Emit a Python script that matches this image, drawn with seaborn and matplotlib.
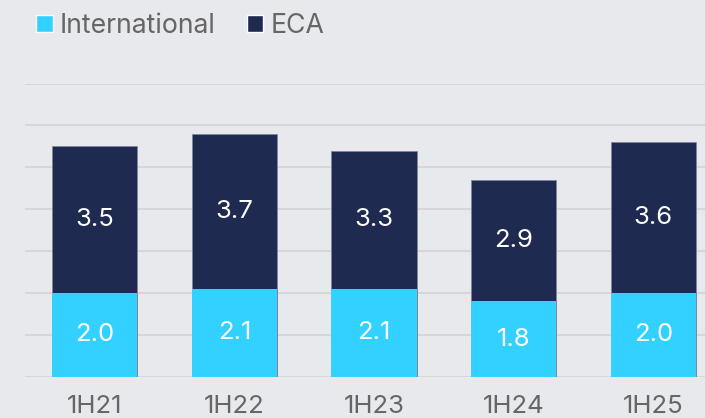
import pandas as pd
import seaborn as sns
import matplotlib.pyplot as plt
from matplotlib.patches import Patch

periods = ["1H21", "1H22", "1H23", "1H24", "1H25"]
international = [2.0, 2.1, 2.1, 1.8, 2.0]
eca = [3.5, 3.7, 3.3, 2.9, 3.6]

BG = "#e8e9ed"
CYAN = "#33d1ff"
NAVY = "#1e2a4f"
GRAY = "#666666"

sns.set_theme(style="whitegrid")
plt.rcParams["font.family"] = ["Inter", "DejaVu Sans"]

df = pd.DataFrame({"period": periods, "International": international, "ECA": eca})
df["total"] = df["International"] + df["ECA"]

fig = plt.figure(figsize=(7.05, 4.18), dpi=100, facecolor=BG)
ax = fig.add_axes([25 / 705, 1 - 376.7 / 418, 1 - 25 / 705, (376.7 - 83.5) / 418])
ax.set_facecolor(BG)

# stacked: draw totals in navy, then international on top of them
sns.barplot(data=df, x="period", y="total", color=NAVY, width=0.61, saturation=1,
            edgecolor="#7d86a0", linewidth=0.5, ax=ax)
sns.barplot(data=df, x="period", y="International", color=CYAN, width=0.61, saturation=1,
            edgecolor=CYAN, linewidth=0, ax=ax)

for i, row in df.iterrows():
    ax.text(i, row["International"] / 2, f"{row['International']:.1f}", ha="center", va="center",
            color="white", fontsize=18.5)
    ax.text(i, row["International"] + row["ECA"] / 2, f"{row['ECA']:.1f}", ha="center", va="center",
            color="white", fontsize=18.5)

ax.set_ylim(0, 7)
ax.set_xlim(-0.5, 4.37)
ax.set_yticks(range(0, 8))
ax.set_yticklabels([])
ax.tick_params(axis="y", length=0)
ax.tick_params(axis="x", length=0, pad=13, labelsize=18.5, labelcolor=GRAY)
ax.grid(axis="y", color="#d6d6d8", linewidth=1.5)
ax.grid(axis="x", visible=False)
ax.set_axisbelow(True)
ax.set_xlabel("")
ax.set_ylabel("")
for s in ax.spines.values():
    s.set_visible(False)

handles = [Patch(facecolor=CYAN, label="International"), Patch(facecolor=NAVY, label="ECA")]
fig.legend(handles=handles, loc="center left", bbox_to_anchor=(36 / 705, 1 - 26 / 418),
           ncol=2, frameon=False, fontsize=19.2, labelcolor=GRAY, handlelength=0.62,
           handleheight=0.62, handletextpad=0.25, columnspacing=1.2, borderpad=0, borderaxespad=0)

fig.savefig("out.png", dpi=100, facecolor=BG)
